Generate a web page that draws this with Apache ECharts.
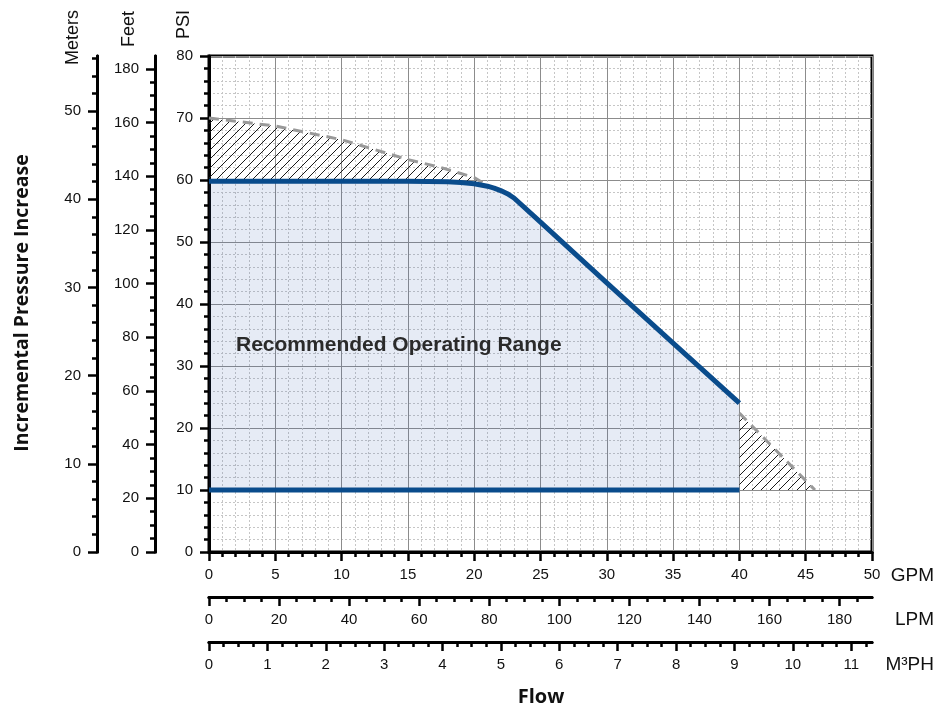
<!DOCTYPE html>
<html>
<head>
<meta charset="utf-8">
<script src="https://cdn.jsdelivr.net/npm/echarts@6/dist/echarts.min.js"></script>
<style>html,body{margin:0;padding:0;background:#fff}#c{width:937px;height:712px}</style>
</head>
<body>
<div id="c"></div>
<script>
// ---- data ----
const upperGPM = [0, 10, 15, 18, 19, 20, 20.5, 21, 21.5, 22, 22.5, 23, 25, 30, 35, 40];
const upperPSI = [59.8, 59.8, 59.8, 59.7, 59.6, 59.4, 59.2, 59.0, 58.7, 58.3, 57.8, 57.1, 53.2, 43.4, 33.7, 24.0];
const lowerGPM = [0, 40];
const lowerPSI = [10, 10];
const maxCurveGPM = [0, 5, 10, 15, 17.5, 20, 21];
const maxCurvePSI = [70, 68.7, 66.5, 63.3, 62.0, 60.4, 59.1];
const runoutGPM = [40, 45.7];
const runoutPSI = [22.4, 10];

const psiMax = 80, gpmMax = 50;
const feetMax = psiMax * 2.31;
const metersMax = psiMax * 0.70307;
const lpmMax = gpmMax * 3.78541;
const m3hMax = gpmMax * 0.227125;

const feetMajor = [0, 20, 40, 60, 80, 100, 120, 140, 160, 180];
const feetMinor = [0,5,10,15,20,25,30,35,40,45,50,55,60,65,70,75,80,85,90,95,100,105,110,115,120,125,130,135,140,145,150,155,160,165,170,175,180];
const metersMajor = [0, 10, 20, 30, 40, 50];
const metersMinor = [0,2,4,6,8,10,12,14,16,18,20,22,24,26,28,30,32,34,36,38,40,42,44,46,48,50,52,54,56];
const lpmMajor = [0, 20, 40, 60, 80, 100, 120, 140, 160, 180];
const lpmMinor = [0,5,10,15,20,25,30,35,40,45,50,55,60,65,70,75,80,85,90,95,100,105,110,115,120,125,130,135,140,145,150,155,160,165,170,175,180,185];
const m3hMajor = [0, 1, 2, 3, 4, 5, 6, 7, 8, 9, 10, 11];
const m3hMinor = [0,0.25,0.5,0.75,1,1.25,1.5,1.75,2,2.25,2.5,2.75,3,3.25,3.5,3.75,4,4.25,4.5,4.75,5,5.25,5.5,5.75,6,6.25,6.5,6.75,7,7.25,7.5,7.75,8,8.25,8.5,8.75,9,9.25,9.5,9.75,10,10.25,10.5,10.75,11,11.25];

const zip = (a, b) => a.map((v, i) => [v, b[i]]);

// ---- styles ----
const FONT = 'Liberation Sans, Arial, sans-serif';
const hatch = document.createElement('canvas');
hatch.width = 9; hatch.height = 9;
(function () {
  const g = hatch.getContext('2d');
  g.strokeStyle = '#1a1a1a'; g.lineWidth = 1;
  g.beginPath();
  g.moveTo(-1, 10); g.lineTo(10, -1);
  g.moveTo(-1, 1); g.lineTo(1, -1);
  g.moveTo(8, 10); g.lineTo(10, 8);
  g.stroke();
})();
const hatchFill = { image: hatch, repeat: 'repeat' };

const axisLineStyle = { color: '#000', width: 3 };
const tickStyle = { color: '#000', width: 2.5 };
const labelStyle = { fontSize: 15, color: '#111', fontFamily: FONT };

function extraY(offset, max, minorVals, majorVals) {
  return [
    { type: 'value', position: 'left', offset, min: 0, max,
      axisLine: { show: true, onZero: false, lineStyle: axisLineStyle },
      axisTick: { show: true, customValues: minorVals, length: 5, lineStyle: tickStyle },
      axisLabel: { show: false }, splitLine: { show: false } },
    { type: 'value', position: 'left', offset, min: 0, max,
      axisLine: { show: true, onZero: false, lineStyle: axisLineStyle },
      axisTick: { show: true, customValues: majorVals, length: 9, lineStyle: tickStyle },
      axisLabel: Object.assign({ customValues: majorVals, margin: 16 }, labelStyle),
      splitLine: { show: false } }
  ];
}
function extraX(offset, max, minorVals, majorVals) {
  return [
    { type: 'value', position: 'bottom', offset, min: 0, max,
      axisLine: { show: true, onZero: false, lineStyle: axisLineStyle },
      axisTick: { show: true, customValues: minorVals, length: 5, lineStyle: tickStyle },
      axisLabel: { show: false }, splitLine: { show: false } },
    { type: 'value', position: 'bottom', offset, min: 0, max,
      axisLine: { show: true, onZero: false, lineStyle: axisLineStyle },
      axisTick: { show: true, customValues: majorVals, length: 9, lineStyle: tickStyle },
      axisLabel: Object.assign({ customValues: majorVals, margin: 15 }, labelStyle),
      splitLine: { show: false } }
  ];
}

function polySeries(points, fill, z) {
  return {
    type: 'custom', xAxisIndex: 0, yAxisIndex: 0, z, silent: true,
    data: [[0, 0]],
    renderItem: function (params, api) {
      return { type: 'polygon', shape: { points: points.map(p => api.coord(p)) }, style: { fill: fill, stroke: null } };
    }
  };
}

const rangePoly = zip(upperGPM, upperPSI).concat(zip(lowerGPM, lowerPSI).reverse());
const upperHatchPoly = zip(maxCurveGPM, maxCurvePSI).concat(
  zip(upperGPM, upperPSI).filter(p => p[0] <= 21).reverse());
const rightHatchPoly = [[runoutGPM[0], lowerPSI[1]]].concat(zip(runoutGPM, runoutPSI));

const chart = echarts.init(document.getElementById('c'), null, { renderer: 'canvas' });
chart.setOption({
  animation: false,
  backgroundColor: '#fff',
  grid: { left: 209, right: 65, top: 56, bottom: 160, show: true, borderColor: '#000', borderWidth: 3, backgroundColor: 'transparent' },
  xAxis: [
    { type: 'value', position: 'bottom', min: 0, max: gpmMax, interval: 5,
      axisLine: { show: true, onZero: false, lineStyle: axisLineStyle },
      axisTick: { show: true, length: 9, lineStyle: tickStyle },
      minorTick: { show: true, splitNumber: 5, length: 5, lineStyle: tickStyle },
      axisLabel: Object.assign({ margin: 15 }, labelStyle),
      splitLine: { show: true, lineStyle: { color: '#8c8c8c', width: 1 } },
      minorSplitLine: { show: true, lineStyle: { color: '#c6c6c6', width: 1, type: [2, 2] } } }
  ].concat(extraX(45, lpmMax, lpmMinor, lpmMajor), extraX(90, m3hMax, m3hMinor, m3hMajor)),
  yAxis: [
    { type: 'value', position: 'left', min: 0, max: psiMax, interval: 10,
      axisLine: { show: true, onZero: false, lineStyle: axisLineStyle },
      axisTick: { show: true, length: 9, lineStyle: tickStyle },
      minorTick: { show: true, splitNumber: 5, length: 5, lineStyle: tickStyle },
      axisLabel: Object.assign({ margin: 16 }, labelStyle),
      splitLine: { show: true, lineStyle: { color: '#8c8c8c', width: 1 } },
      minorSplitLine: { show: true, lineStyle: { color: '#c6c6c6', width: 1, type: [2, 2] } } }
  ].concat(extraY(54, feetMax, feetMinor, feetMajor), extraY(112, metersMax, metersMinor, metersMajor)),
  series: [
    polySeries(rangePoly, 'rgba(60,100,180,0.13)', 1),
    polySeries(upperHatchPoly, hatchFill, 1),
    polySeries(rightHatchPoly, hatchFill, 1),
    { type: 'line', xAxisIndex: 0, yAxisIndex: 0, z: 3, data: zip(maxCurveGPM, maxCurvePSI), symbol: 'none',
      lineStyle: { color: '#999', width: 3, type: [10, 7] } },
    { type: 'line', xAxisIndex: 0, yAxisIndex: 0, z: 3, data: zip(runoutGPM, runoutPSI), symbol: 'none',
      lineStyle: { color: '#999', width: 3, type: [10, 7] } },
    { type: 'line', xAxisIndex: 0, yAxisIndex: 0, z: 4, data: zip(upperGPM, upperPSI), symbol: 'none',
      lineStyle: { color: '#0a4c8c', width: 5, join: 'round' } },
    { type: 'line', xAxisIndex: 0, yAxisIndex: 0, z: 4, data: zip(lowerGPM, lowerPSI), symbol: 'none',
      lineStyle: { color: '#0a4c8c', width: 5 } }
  ],
  graphic: [
    { type: 'text', left: 236, top: 335, z: 10, style: { text: 'Recommended Operating Range', font: 'bold 21px ' + FONT, fill: '#2a2a2a' } },
    { type: 'text', x: 22, y: 303, rotation: Math.PI / 2, z: 10, style: { text: 'Incremental Pressure Increase', x: 0, y: 0, align: 'center', verticalAlign: 'middle', font: 'bold 19.5px "Open Sans", sans-serif', fill: '#111' } },
    { type: 'text', x: 541, y: 697, z: 10, style: { text: 'Flow', x: 0, y: 0, align: 'center', verticalAlign: 'middle', font: 'bold 20px "Open Sans", sans-serif', fill: '#111' } },
    { type: 'text', x: 73, y: 10, rotation: Math.PI / 2, z: 10, style: { text: 'Meters', x: 0, y: 0, align: 'right', verticalAlign: 'middle', font: '18px ' + FONT, fill: '#111' } },
    { type: 'text', x: 129, y: 11, rotation: Math.PI / 2, z: 10, style: { text: 'Feet', x: 0, y: 0, align: 'right', verticalAlign: 'middle', font: '18px ' + FONT, fill: '#111' } },
    { type: 'text', x: 184, y: 10, rotation: Math.PI / 2, z: 10, style: { text: 'PSI', x: 0, y: 0, align: 'right', verticalAlign: 'middle', font: '18px ' + FONT, fill: '#111' } },
    { type: 'text', x: 934, y: 576, z: 10, style: { text: 'GPM', x: 0, y: 0, align: 'right', verticalAlign: 'middle', font: '19px ' + FONT, fill: '#111' } },
    { type: 'text', x: 934, y: 620, z: 10, style: { text: 'LPM', x: 0, y: 0, align: 'right', verticalAlign: 'middle', font: '19px ' + FONT, fill: '#111' } },
    { type: 'text', x: 934, y: 665, z: 10, style: { text: 'M³PH', x: 0, y: 0, align: 'right', verticalAlign: 'middle', font: '19px ' + FONT, fill: '#111' } }
  ]
});
</script>
</body>
</html>
